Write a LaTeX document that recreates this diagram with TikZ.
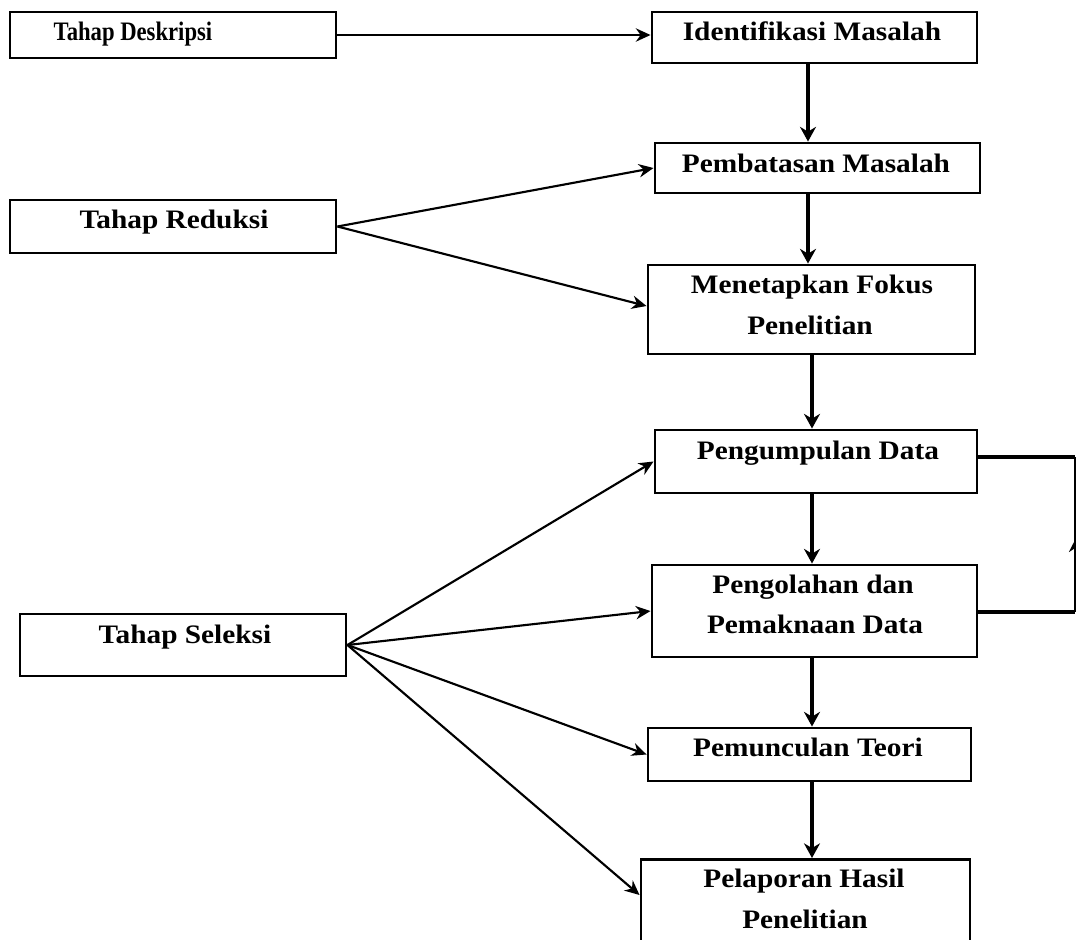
\documentclass[tikz,border=0pt]{standalone}
\usepackage{fontspec}
\setmainfont{Liberation Serif}
\newfontfamily\widefont[FakeStretch=1.1]{Liberation Serif}
\newfontfamily\narrowfont[FakeStretch=0.85]{Liberation Serif}
\usetikzlibrary{arrows.meta}
\begin{document}
\begin{tikzpicture}[x=0.75pt,y=-0.75pt,
  box/.style={draw,line width=2.2pt,inner sep=0pt},
  lbl/.style={inner sep=0pt,anchor=base,font=\widefont\bfseries\fontsize{20}{24}\selectfont},
  arr/.style={line width=1.6pt,-{Stealth[length=11pt,width=10pt]}},
  varr/.style={line width=2.6pt,-{Stealth[length=11pt,width=12pt]}}]
\useasboundingbox (0,0) rectangle (1076,940);
% boxes
\node[box,minimum width=244.5pt,minimum height=34.5pt] (desk) at (173,35) {};
\node[box,minimum width=243.75pt,minimum height=38.25pt] (iden) at (814.5,37.5) {};
\node[box,minimum width=243.75pt,minimum height=37.5pt] (pemb) at (817.5,168) {};
\node[box,minimum width=244.5pt,minimum height=39.75pt] (redu) at (173,226.5) {};
\node[box,minimum width=245.25pt,minimum height=66.75pt] (mene) at (811.5,309.5) {};
\node[box,minimum width=241.5pt,minimum height=47.25pt] (peng) at (816,461.5) {};
\node[box,minimum width=243.75pt,minimum height=69pt] (peno) at (814.5,611) {};
\node[box,minimum width=244.5pt,minimum height=46.5pt] (sele) at (183,645) {};
\node[box,minimum width=242.25pt,minimum height=39.75pt] (pemu) at (809.5,754.5) {};
\node[box,minimum width=246.75pt,minimum height=72pt,anchor=north] (pela) at (805.5,858) {};
% labels
\node[lbl,font=\narrowfont\bfseries\fontsize{20}{24}\selectfont] (deskT) at (133,40) {Tahap Deskripsi};
\node[lbl] (idenT) at (812,40) {Identifikasi Masalah};
\node[lbl] (pembT) at (816,172) {Pembatasan Masalah};
\node[lbl] (reduT) at (174,228) {Tahap Reduksi};
\node[lbl] (meneT1) at (812,293) {Menetapkan Fokus};
\node[lbl] (meneT2) at (810,334) {Penelitian};
\node[lbl] (pengT) at (818,459) {Pengumpulan Data};
\node[lbl] (penoT1) at (813,593) {Pengolahan dan};
\node[lbl] (penoT2) at (815,633) {Pemaknaan Data};
\node[lbl] (seleT) at (185,643) {Tahap Seleksi};
\node[lbl] (pemuT) at (808,756) {Pemunculan Teori};
\node[lbl] (pelaT1) at (804,887) {Pelaporan Hasil};
\node[lbl] (pelaT2) at (805,928) {Penelitian};
% vertical flow
\draw[varr] (iden.south -| 808,0) -- (pemb.north -| 808,0);
\draw[varr] (pemb.south -| 808,0) -- (mene.north -| 808,0);
\draw[varr] (mene.south -| 812,0) -- (peng.north -| 812,0);
\draw[varr] (peng.south -| 812,0) -- (peno.north -| 812,0);
\draw[varr] (peno.south -| 812,0) -- (pemu.north -| 812,0);
\draw[varr] (pemu.south -| 812,0) -- (pela.north -| 812,0);
% stage arrows
\draw[arr] (desk.east) -- (iden.west |- desk.east);
\coordinate (rr) at (redu.east);
\draw[arr] (rr) -- (pemb.west);
\draw[arr] (rr) -- (mene.west |- 0,306);
\coordinate (ss) at (sele.east);
\draw[arr] (ss) -- (peng.west);
\draw[arr] (ss) -- (peno.west);
\draw[arr] (ss) -- (pemu.west);
\draw[arr] (ss) -- (pela.west |- 0,895);
% feedback loop on the right
\coordinate (lt) at (1075,457);
\coordinate (lb) at (1075,612);
\draw[line width=2.6pt] (peno.east |- lb) -- (lb);
\draw[line width=2.6pt] (peng.east |- lt) -- (lt);
\draw[line width=1pt] (lb) -- (lt);
\draw[line width=1.6pt,-{Stealth[length=9pt,width=9pt]}] (1075,560) -- (1075,540);
\end{tikzpicture}
\end{document}
